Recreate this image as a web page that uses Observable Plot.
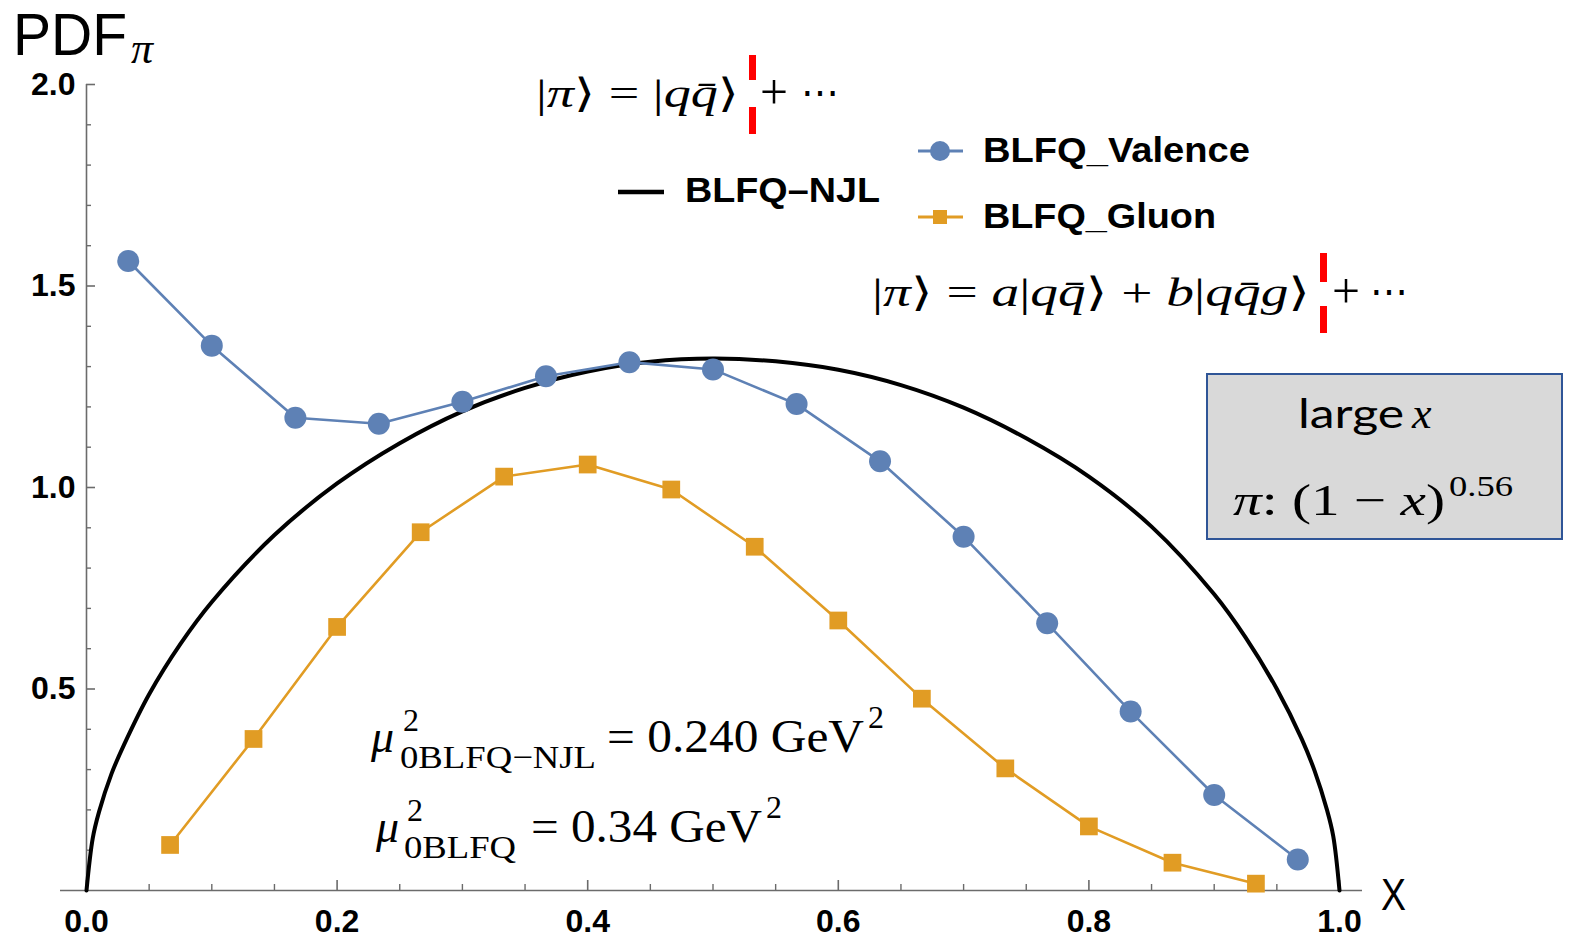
<!DOCTYPE html>
<html>
<head>
<meta charset="utf-8">
<script src="https://cdn.jsdelivr.net/npm/d3@7"></script>
<script src="https://cdn.jsdelivr.net/npm/@observablehq/plot@0.6"></script>
<style>
  html, body { margin: 0; padding: 0; background: #fff; }
  #wrap { position: relative; width: 1569px; height: 939px; overflow: hidden; }
  #wrap > svg { position: absolute; left: 0; top: 0; }
  #notes { pointer-events: none; }
  .serif { font-family: "Liberation Serif", "DejaVu Serif", serif; }
  .it { font-style: italic; }
  .lab { font-family: "Liberation Sans", Arial, sans-serif; }
</style>
</head>
<body>
<div id="wrap">
<svg id="notes" width="1569" height="939" viewBox="0 0 1569 939" xmlns="http://www.w3.org/2000/svg">
  <!-- axis titles -->
  <text class="lab" x="13" y="55" font-size="60" textLength="114" lengthAdjust="spacingAndGlyphs">PDF</text>
  <text class="serif it" x="131" y="63" font-size="44">π</text>
  <text class="lab" x="1381" y="910" font-size="44" textLength="25" lengthAdjust="spacingAndGlyphs">X</text>

  <!-- Fock expansions -->
  <text class="serif" x="536" y="107" font-size="40" textLength="203" lengthAdjust="spacingAndGlyphs">|<tspan class="it">π</tspan>⟩ = |<tspan class="it">qq̄</tspan>⟩</text>
  <text class="serif" x="760" y="109" font-size="50" textLength="28" lengthAdjust="spacingAndGlyphs">+</text>
  <text class="serif" x="801" y="107" font-size="44" textLength="38" lengthAdjust="spacingAndGlyphs">⋯</text>
  <rect x="749" y="55" width="7" height="25" fill="#ff0000"/>
  <rect x="749" y="107" width="7" height="27" fill="#ff0000"/>

  <text class="serif" x="872" y="306" font-size="40" textLength="438" lengthAdjust="spacingAndGlyphs">|<tspan class="it">π</tspan>⟩ = <tspan class="it">a</tspan>|<tspan class="it">qq̄</tspan>⟩ + <tspan class="it">b</tspan>|<tspan class="it">qq̄g</tspan>⟩</text>
  <text class="serif" x="1332" y="308" font-size="50" textLength="28" lengthAdjust="spacingAndGlyphs">+</text>
  <text class="serif" x="1370" y="306" font-size="44" textLength="38" lengthAdjust="spacingAndGlyphs">⋯</text>
  <rect x="1320" y="253" width="7" height="29" fill="#ff0000"/>
  <rect x="1320" y="306" width="7" height="27" fill="#ff0000"/>

  <!-- legend -->
  <line x1="618" x2="664" y1="192" y2="192" stroke="#000" stroke-width="4.5"/>
  <text class="lab" x="685" y="202" font-size="35" font-weight="bold" textLength="195" lengthAdjust="spacingAndGlyphs">BLFQ–NJL</text>
  <line x1="918" x2="963" y1="151" y2="151" stroke="#5e81b5" stroke-width="3"/>
  <circle cx="940" cy="151" r="10" fill="#5e81b5"/>
  <text class="lab" x="983" y="162" font-size="35" font-weight="bold" textLength="267" lengthAdjust="spacingAndGlyphs">BLFQ_Valence</text>
  <line x1="918" x2="963" y1="217" y2="217" stroke="#e19c24" stroke-width="3"/>
  <rect x="933" y="210" width="14" height="14" fill="#e19c24"/>
  <text class="lab" x="983" y="228" font-size="35" font-weight="bold" textLength="233" lengthAdjust="spacingAndGlyphs">BLFQ_Gluon</text>

  <!-- large-x box -->
  <rect x="1207" y="374" width="355" height="165" fill="#d9d9d9" stroke="#2f5597" stroke-width="2"/>
  <text x="1298" y="428" font-family="Lato, 'Open Sans', sans-serif" font-size="40" textLength="106" lengthAdjust="spacingAndGlyphs">large</text>
  <text class="serif it" x="1412" y="428" font-size="44">x</text>
  <text class="serif" x="1233" y="515" font-size="44" textLength="212" lengthAdjust="spacingAndGlyphs"><tspan class="it">π</tspan>: (1 − <tspan class="it">x</tspan>)</text>
  <text class="serif" x="1449" y="496" font-size="30" textLength="64" lengthAdjust="spacingAndGlyphs">0.56</text>

  <!-- initial scales -->
  <text class="serif it" x="371" y="752" font-size="46">μ</text>
  <text class="serif" x="403" y="731" font-size="32">2</text>
  <text class="serif" x="400" y="768" font-size="32" textLength="196" lengthAdjust="spacingAndGlyphs">0BLFQ−NJL</text>
  <text class="serif" x="607" y="752" font-size="46" textLength="257" lengthAdjust="spacingAndGlyphs">= 0.240 GeV</text>
  <text class="serif" x="868" y="728" font-size="32">2</text>

  <text class="serif it" x="376" y="842" font-size="46">μ</text>
  <text class="serif" x="407" y="821" font-size="32">2</text>
  <text class="serif" x="404" y="858" font-size="32" textLength="112" lengthAdjust="spacingAndGlyphs">0BLFQ</text>
  <text class="serif" x="531" y="842" font-size="46" textLength="231" lengthAdjust="spacingAndGlyphs">= 0.34 GeV</text>
  <text class="serif" x="766" y="818" font-size="32">2</text>
</svg>
</div>
<script>
// BLFQ–NJL pion valence PDF (smooth curve)
const njlX   = [0, 0.005, 0.01, 0.02, 0.03, 0.05, 0.075, 0.1, 0.15, 0.2, 0.25, 0.3, 0.35, 0.4, 0.45, 0.5,
                0.55, 0.6, 0.65, 0.7, 0.75, 0.8, 0.85, 0.9, 0.925, 0.95, 0.97, 0.98, 0.99, 0.995, 1];
const njlPdf = [0, 0.13, 0.195, 0.29, 0.362, 0.487, 0.612, 0.716, 0.882, 1.01, 1.11, 1.189, 1.247, 1.288, 1.312, 1.32,
                1.313, 1.292, 1.254, 1.198, 1.122, 1.027, 0.903, 0.735, 0.628, 0.5, 0.375, 0.298, 0.2, 0.135, 0];

// BLFQ valence sector
const valenceX   = [0.0333, 0.1, 0.1667, 0.2333, 0.3, 0.3667, 0.4333, 0.5, 0.5667, 0.6333, 0.7, 0.7667, 0.8333, 0.9, 0.9667];
const valencePdf = [1.562, 1.352, 1.173, 1.158, 1.213, 1.276, 1.311, 1.293, 1.207, 1.065, 0.878, 0.663, 0.444, 0.237, 0.077];

// BLFQ with one dynamical gluon
const gluonX   = [0.0667, 0.1333, 0.2, 0.2667, 0.3333, 0.4, 0.4667, 0.5333, 0.6, 0.6667, 0.7333, 0.8, 0.8667, 0.9333];
const gluonPdf = [0.113, 0.376, 0.654, 0.889, 1.027, 1.057, 0.995, 0.853, 0.670, 0.476, 0.303, 0.159, 0.069, 0.017];

// axis ticks
const xMajorTicks = [0, 0.2, 0.4, 0.6, 0.8, 1.0];
const xTickLabels = ["0.0", "0.2", "0.4", "0.6", "0.8", "1.0"];
const xMinorTicks = [0.05, 0.1, 0.15, 0.25, 0.3, 0.35, 0.45, 0.5, 0.55, 0.65, 0.7, 0.75, 0.85, 0.9, 0.95];
const yMajorTicks = [0.5, 1.0, 1.5, 2.0];
const yTickLabels = ["0.5", "1.0", "1.5", "2.0"];
const yMinorTicks = [0.1, 0.2, 0.3, 0.4, 0.6, 0.7, 0.8, 0.9, 1.1, 1.2, 1.3, 1.4, 1.6, 1.7, 1.8, 1.9];

const njl = njlX.map((x, i) => ({x, pdf: njlPdf[i]}));
const valence = valenceX.map((x, i) => ({x, pdf: valencePdf[i]}));
const gluon = gluonX.map((x, i) => ({x, pdf: gluonPdf[i]}));

const W = 1569, H = 939;
const mL = 86, mR = 230, mT = 84, mB = 49;
const frameW = W - mL - mR, frameH = H - mT - mB;
const axisColor = "#6b6b6b";
const blue = "#5e81b5", orange = "#e19c24";

const chart = Plot.plot({
  width: W,
  height: H,
  marginLeft: mL,
  marginRight: mR,
  marginTop: mT,
  marginBottom: mB,
  style: {fontFamily: "'Liberation Sans', Arial, sans-serif", background: "transparent", color: "#000"},
  x: {domain: [0, 1]},
  y: {domain: [0, 2]},
  marks: [
    // axis lines
    Plot.ruleY([0], {stroke: axisColor, strokeWidth: 1.6, insetLeft: -26, insetRight: -23}),
    Plot.ruleX([0], {stroke: axisColor, strokeWidth: 1.6}),
    // inward ticks
    Plot.tickX(xMinorTicks, {x: d => d, stroke: axisColor, strokeWidth: 1.4, insetTop: frameH - 6}),
    Plot.tickX(xMajorTicks, {x: d => d, stroke: axisColor, strokeWidth: 1.6, insetTop: frameH - 10}),
    Plot.tickY(yMinorTicks, {y: d => d, stroke: axisColor, strokeWidth: 1.4, insetRight: frameW - 5}),
    Plot.tickY(yMajorTicks, {y: d => d, stroke: axisColor, strokeWidth: 1.6, insetRight: frameW - 9}),
    // tick labels
    Plot.axisX(xMajorTicks, {
      tickSize: 0, tickPadding: 19, label: null,
      tickFormat: d => xTickLabels[xMajorTicks.indexOf(d)],
      fontSize: 32, fontWeight: "bold", fill: "#000"
    }),
    Plot.axisY(yMajorTicks, {
      tickSize: 0, tickPadding: 11, label: null,
      tickFormat: d => yTickLabels[yMajorTicks.indexOf(d)],
      fontSize: 32, fontWeight: "bold", fill: "#000"
    }),
    // curves
    Plot.line(njl, {x: "x", y: "pdf", stroke: "#000", strokeWidth: 4, curve: "catmull-rom"}),
    Plot.line(gluon, {x: "x", y: "pdf", stroke: orange, strokeWidth: 2.6}),
    Plot.dot(gluon, {x: "x", y: "pdf", symbol: "square", r: 10, fill: orange}),
    Plot.line(valence, {x: "x", y: "pdf", stroke: blue, strokeWidth: 2.6}),
    Plot.dot(valence, {x: "x", y: "pdf", r: 11, fill: blue})
  ]
});

const wrap = document.getElementById("wrap");
wrap.insertBefore(chart, document.getElementById("notes"));
</script>
</body>
</html>
